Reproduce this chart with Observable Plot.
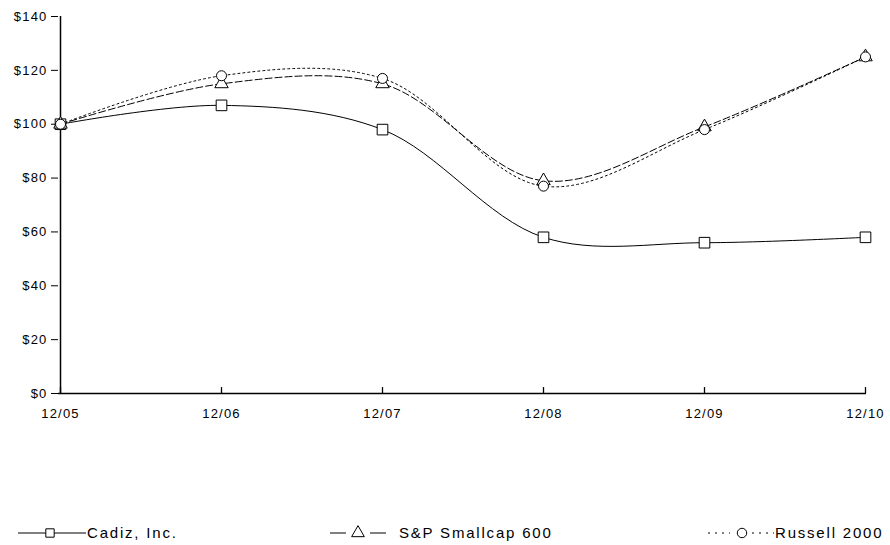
<!DOCTYPE html>
<html><head><meta charset="utf-8">
<script src="https://cdn.jsdelivr.net/npm/d3@7"></script>
<script src="https://cdn.jsdelivr.net/npm/@observablehq/plot@0.6"></script>
<style>
body{margin:0;background:#fff;font-family:"Liberation Sans",Arial,sans-serif;}
#chart svg{letter-spacing:1.2px}
#legend{position:relative;height:18px;margin-top:99px;font-size:15px;letter-spacing:1.8px;}
.item{position:absolute;top:0;display:flex;align-items:center;white-space:nowrap;}
.item svg{display:block}
</style></head><body>
<div id="chart"></div>
<div id="legend"></div>
<script>
const periods = ["12/05","12/06","12/07","12/08","12/09","12/10"];
const cadiz   = [100, 107, 98, 58, 56, 58];
const sp600   = [100, 115, 115, 79, 99, 125];
const russell = [100, 118, 117, 77, 98, 125];
const yTicks  = [0,20,40,60,80,100,120,140];
const seriesNames = ["Cadiz, Inc.", "S&P Smallcap 600", "Russell 2000"];

const styles = {
  "Cadiz, Inc.": {dash: null, symbol: "square"},
  "S&P Smallcap 600": {dash: "7,3", symbol: "triangle"},
  "Russell 2000": {dash: "2,3", symbol: "circle"}
};
const rows = [];
[cadiz, sp600, russell].forEach((vals, i) => vals.forEach((v, j) => rows.push({series: seriesNames[i], period: periods[j], value: v})));

const lineMarks = seriesNames.map(s => Plot.line(rows.filter(r => r.series === s), {
  x: "period", y: "value", curve: "catmull-rom", stroke: "black", strokeWidth: 1,
  strokeDasharray: styles[s].dash
}));
const dotMarks = seriesNames.map(s => Plot.dot(rows.filter(r => r.series === s), {
  x: "period", y: "value", symbol: () => styles[s].symbol, r: s === "Cadiz, Inc." ? 6 : 5,
  fill: "white", stroke: "black", strokeWidth: 1
}));

const chart = Plot.plot({
  width: 890, height: 425,
  marginLeft: 58, marginRight: 24, marginTop: 16, marginBottom: 32,
  style: {fontFamily: "Liberation Sans, Arial, sans-serif", fontSize: "13px", color: "black"},
  symbol: {type: "identity"},
  x: {type: "point", domain: periods, padding: 0, label: null},
  y: {domain: [0, 140], ticks: yTicks, label: null},
  marks: [
    Plot.axisY({ticks: yTicks, tickFormat: d => "$" + d, tickSize: 7, tickPadding: 4, label: null, fontSize: 13}),
    Plot.axisX({tickSize: 0, tickPadding: 15, label: null, fontSize: 13}),
    Plot.ruleX(periods, {x: d => d, y1: 0, y2: 2.2, stroke: "black", strokeWidth: 1.3}),
    Plot.ruleY([0], {stroke: "black", strokeWidth: 1.5}),
    Plot.ruleX([periods[0]], {x: d => d, y1: 0, y2: 140, stroke: "black", strokeWidth: 1.5}),
    ...lineMarks,
    ...dotMarks
  ]
});
document.getElementById("chart").appendChild(chart);

// legend
const legend = d3.select("#legend");
const lefts = [16, 328, 706];
const sampleW = [70, 62, 68];
seriesNames.forEach((s, i) => {
  const it = legend.append("div").attr("class", "item").style("left", lefts[i] + "px");
  const w = sampleW[i];
  const svg = it.append("svg").attr("width", w).attr("height", 16);
  if (i === 0) {
    svg.append("line").attr("x1", 2).attr("x2", w).attr("y1", 8).attr("y2", 8).attr("stroke", "black");
  } else if (i === 1) {
    svg.append("line").attr("x1", 2).attr("x2", 18).attr("y1", 8).attr("y2", 8).attr("stroke", "black");
    svg.append("line").attr("x1", 42).attr("x2", 58).attr("y1", 8).attr("y2", 8).attr("stroke", "black");
  } else {
    svg.append("line").attr("x1", 2).attr("x2", 24).attr("y1", 8).attr("y2", 8).attr("stroke", "black").attr("stroke-dasharray", "2,5");
    svg.append("line").attr("x1", 46).attr("x2", 68).attr("y1", 8).attr("y2", 8).attr("stroke", "black").attr("stroke-dasharray", "2,5");
  }
  const cx = i === 0 ? 34 : i === 1 ? 30 : 36;
  const sym = d3.symbol().type(i === 0 ? d3.symbolSquare : i === 1 ? d3.symbolTriangle : d3.symbolCircle).size(70);
  svg.append("path").attr("d", sym()).attr("transform", `translate(${cx},8)`).attr("fill", "white").attr("stroke", "black");
  it.append("span").text(s).style("margin-left", i === 1 ? "9px" : "1px");
});
</script>
</body></html>
